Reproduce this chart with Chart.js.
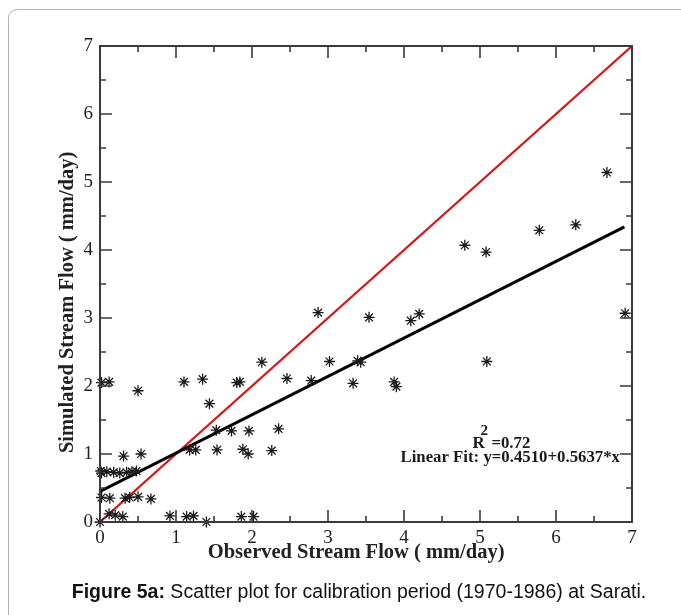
<!DOCTYPE html>
<html><head><meta charset="utf-8">
<script src="https://cdn.jsdelivr.net/npm/chart.js@4.4.1/dist/chart.umd.min.js"></script>
<style>
html,body{margin:0;padding:0;background:#fff;width:681px;height:615px;overflow:hidden;}
#frame{position:absolute;left:8px;top:9px;width:720px;height:660px;border:1px solid #b5b5b5;border-radius:9px;}
#wrap{position:absolute;left:0;top:0;width:681px;height:615px;}
#cap{position:absolute;left:0;width:718px;top:579px;line-height:24px;text-align:center;font-family:"Liberation Sans",Arial,sans-serif;font-size:19.5px;color:#111;white-space:nowrap;}
</style></head>
<body>
<div id="frame"></div>
<div id="wrap"><canvas id="c" width="681" height="615"></canvas></div>
<div id="cap"><b>Figure 5a:</b> Scatter plot for calibration period (1970-1986) at Sarati.</div>
<script>
const obsX = [0.00,0.02,0.12,0.50,0.31,0.54,
  0.01,0.02,0.09,0.18,0.26,0.35,0.42,0.48,
  0.02,0.13,0.33,0.39,0.50,0.67,
  0.12,0.20,0.30,
  0.92,1.14,1.23,1.40,1.86,2.02,
  1.105,1.35,1.80,1.84,2.13,2.46,
  1.44,1.53,1.73,1.96,2.35,
  1.18,1.26,1.54,1.88,1.95,2.26,
  2.87,3.54,4.09,4.20,
  3.02,3.39,3.43,
  2.78,3.33,3.87,3.90,
  6.67,4.80,5.08,5.78,6.26,6.91,5.09];
const simY = [0.00,2.05,2.06,1.93,0.97,1.00,
  0.75,0.72,0.74,0.73,0.72,0.73,0.74,0.75,
  0.36,0.35,0.35,0.36,0.37,0.34,
  0.12,0.10,0.08,
  0.09,0.08,0.09,0.00,0.08,0.08,
  2.06,2.10,2.05,2.06,2.35,2.11,
  1.74,1.35,1.34,1.34,1.37,
  1.06,1.06,1.06,1.07,1.00,1.05,
  3.08,3.01,2.96,3.06,
  2.36,2.37,2.35,
  2.08,2.04,2.06,1.99,
  5.14,4.07,3.97,4.29,4.37,3.07,2.36];
const oneToOneX = [0, 7];
const oneToOneY = [0, 7];
const fitX = [0, 6.9];
const fitY = [0.451, 4.341];
const tickValues = [0,1,2,3,4,5,6,7];
const minorValues = [0.5,1.5,2.5,3.5,4.5,5.5,6.5];
const xTitle = "Observed Stream Flow ( mm/day)";
const yTitle = "Simulated Stream Flow ( mm/day)";
const r2Text = "=0.72";
const fitText = "Linear Fit: y=0.4510+0.5637*x";

const pts = obsX.map((x,i)=>({x:x,y:simY[i]}));
const toXY = (xs,ys)=>xs.map((x,i)=>({x:x,y:ys[i]}));

const serif = "'Liberation Serif','Times New Roman',serif";

const framePlugin = {
  id:'frame',
  afterDatasetsDraw(chart){
    const {ctx, chartArea:a, scales:{x,y}} = chart;
    ctx.save();
    ctx.strokeStyle = '#3a3a3a';
    ctx.lineWidth = 1.6;
    ctx.beginPath();
    const tick = (v,len)=>{
      const px = x.getPixelForValue(v);
      ctx.moveTo(px,a.bottom); ctx.lineTo(px,a.bottom-len);
      ctx.moveTo(px,a.top); ctx.lineTo(px,a.top+len);
      const py = y.getPixelForValue(v);
      ctx.moveTo(a.left,py); ctx.lineTo(a.left+len,py);
      ctx.moveTo(a.right,py); ctx.lineTo(a.right-len,py);
    };
    tickValues.forEach(v=>tick(v,12));
    minorValues.forEach(v=>tick(v,6));
    ctx.stroke();
    ctx.lineWidth = 2;
    ctx.strokeRect(a.left,a.top,a.right-a.left,a.bottom-a.top);
    // axis titles
    ctx.fillStyle = '#222';
    ctx.font = "bold 20.5px " + serif;
    ctx.textAlign = 'center';
    ctx.textBaseline = 'middle';
    ctx.fillText(xTitle, x.getPixelForValue(3.37), 553);
    ctx.save();
    ctx.translate(68, y.getPixelForValue(3.23));
    ctx.rotate(-Math.PI/2);
    ctx.fillText(yTitle, 0, 0);
    ctx.restore();
    // annotation text
    ctx.fillStyle = '#1a1a1a';
    ctx.font = "bold 16.8px " + serif;
    ctx.textAlign = 'right';
    ctx.textBaseline = 'alphabetic';
    const rx = a.right - 12, ly = y.getPixelForValue(0.88);
    ctx.fillText(fitText, rx, ly);
    ctx.textAlign = 'left';
    const r2x = x.getPixelForValue(4.9), r2y = y.getPixelForValue(1.09);
    ctx.font = "bold 17px " + serif;
    ctx.fillText("R", r2x, r2y);
    ctx.font = "bold 15px " + serif;
    ctx.fillText("2", r2x+8, r2y-13);
    ctx.font = "bold 16.8px " + serif;
    ctx.fillText(r2Text, r2x+19, r2y);
    ctx.restore();
  }
};

new Chart(document.getElementById('c'), {
  type:'scatter',
  data:{datasets:[
    {data:toXY(oneToOneX,oneToOneY), showLine:true, borderColor:'#d01c1c', borderWidth:2.2, pointRadius:0, order:2},
    {data:toXY(fitX,fitY), showLine:true, borderColor:'#000', borderWidth:3, pointRadius:0, order:1},
    {data:pts, pointStyle:'star', pointRadius:5.5, pointBorderColor:'#1a1a1a', pointBorderWidth:1.3, pointBackgroundColor:'#000', clip:false, order:0}
  ]},
  options:{
    responsive:false, animation:false, devicePixelRatio:1,
    layout:{padding:{left:0,top:46,right:49,bottom:0}},
    plugins:{legend:{display:false}, tooltip:{enabled:false}},
    scales:{
      x:{type:'linear', min:0, max:7,
        afterFit(s){s.height=93;},
        afterBuildTicks(s){s.ticks = tickValues.map(v=>({value:v}));},
        grid:{display:false, drawTicks:false}, border:{display:false},
        ticks:{padding:5, color:'#222', font:{family:serif,size:19}},
        title:{display:false, text:xTitle}
      },
      y:{type:'linear', min:0, max:7,
        afterFit(s){s.width=100;},
        afterBuildTicks(s){s.ticks = tickValues.map(v=>({value:v}));},
        grid:{display:false, drawTicks:false}, border:{display:false},
        ticks:{padding:7, color:'#222', font:{family:serif,size:19}},
        title:{display:false, text:yTitle}
      }
    }
  },
  plugins:[framePlugin]
});
</script>
</body></html>
